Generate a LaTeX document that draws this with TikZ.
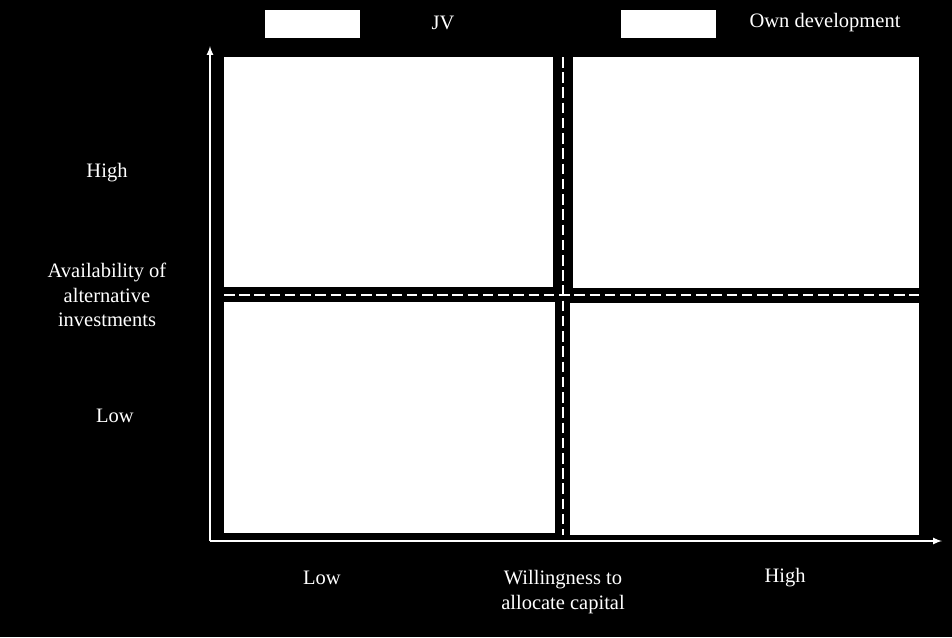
\documentclass[tikz,border=0pt]{standalone}
\usepackage{fontspec}
\setmainfont{Liberation Serif}
\usetikzlibrary{positioning}
\begin{document}
\begin{tikzpicture}[x=0.03cm,y=-0.03cm,>=latex,
  quad/.style={fill=white,draw=none},
  lbl/.style={text=white,font=\fontsize{17.5}{21}\selectfont,align=center},
  axis/.style={white,line width=1.6pt,->}]
\fill[black] (0,0) rectangle (952,637);
\useasboundingbox (0,0) rectangle (952,637);
% legend
\fill[quad] (265,10) rectangle (360,38);
\fill[quad] (621,10) rectangle (716,38);
\node[lbl] (jv) at (443,23) {JV};
\node[lbl] (own) at (825,23) {Own development};
% quadrants
\fill[quad] (224,57) rectangle (553,287);
\fill[quad] (573,57) rectangle (919,288);
\fill[quad] (224,302) rectangle (555,533);
\fill[quad] (570,303) rectangle (919,535);
% dashed separators
\draw[white,line width=1.6pt,dash pattern=on 9pt off 4pt] (563,57) -- (563,535);
\draw[white,line width=1.6pt,dash pattern=on 9pt off 4pt] (224,295) -- (919,295);
% axes
\coordinate (o) at (210,541);
\coordinate (ytop) at (210,46);
\coordinate (xend) at (942,541);
\draw[axis] (o) -- (ytop);
\draw[axis] (o) -- (xend);
% labels
\node[lbl] (yhigh) at (107,173) {High};
\node[lbl] (ytitle) at (107,295) {Availability of\\alternative\\investments};
\node[lbl] (ylow) at (115,416) {Low};
\node[lbl] (xlow) at (322,578) {Low};
\node[lbl] (xtitle) at (563,592) {Willingness to\\allocate capital};
\node[lbl] (xhigh) at (785,578) {High};
\end{tikzpicture}
\end{document}
